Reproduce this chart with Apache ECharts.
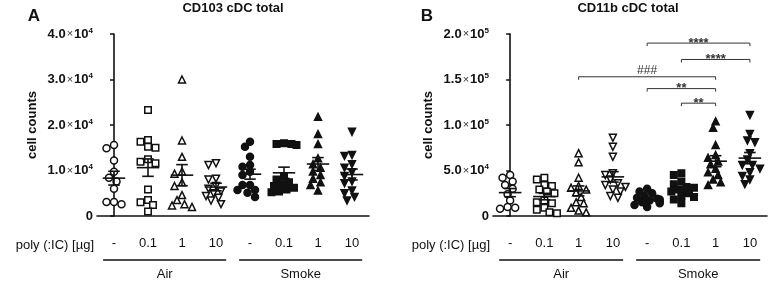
<!DOCTYPE html>
<html>
<head>
<meta charset="utf-8">
<script src="https://cdn.jsdelivr.net/npm/echarts@6/dist/echarts.min.js"></script>
<style>
  html, body { margin: 0; padding: 0; background: #fff; }
  #chart { width: 768px; height: 281px; }
</style>
</head>
<body>
<div id="chart"></div>
<script>
// cell counts, in units of 1000 cells
const doseLabels = ['-', '0.1', '1', '10', '-', '0.1', '1', '10'];
const exposureNames = ['Air', 'Smoke'];

const cd103Counts = [
  [15.6, 14.9, 12.2, 9.7, 8.4, 7.6, 6.0, 3.1, 2.6, 3.1],
  [23.3, 16.7, 16.3, 15.2, 15.0, 12.5, 11.9, 11.6, 5.8, 3.5, 3.0, 2.4, 1.0],
  [30.0, 16.6, 13.0, 9.8, 9.3, 7.4, 6.6, 4.6, 3.5, 2.6, 2.3, 2.0],
  [11.6, 11.2, 8.2, 8.0, 6.6, 6.0, 5.4, 5.0, 4.4, 4.0, 3.4, 2.6],
  [16.3, 15.2, 13.0, 11.2, 10.8, 9.7, 9.0, 6.8, 6.8, 5.7, 5.7, 5.1, 4.2],
  [16.0, 15.8, 15.8, 15.6, 8.6, 8.0, 7.4, 7.0, 6.6, 6.2, 5.8, 5.4, 5.2],
  [21.8, 18.0, 15.8, 12.7, 11.4, 10.6, 9.8, 9.0, 8.2, 7.4, 6.8, 5.6],
  [18.5, 13.4, 13.2, 11.4, 10.6, 9.6, 8.8, 7.6, 7.2, 5.6, 5.0, 4.2, 3.4]
];

const cd11bCounts = [
  [45, 42, 38, 34, 30, 24, 17, 10, 9, 8],
  [42, 40, 34, 33, 29, 27, 25, 17, 15, 14, 9, 7, 4, 3],
  [69, 59, 42, 33, 31, 29, 26, 21, 15, 14, 9, 6, 4],
  [86, 76, 65, 47, 45, 40, 36, 34, 32, 29, 27, 22, 20],
  [30, 27, 25, 22, 20, 19, 18, 17, 16, 15, 14, 12, 10],
  [47, 45, 38, 35, 32, 31, 29, 27, 25, 22, 21, 18, 14],
  [104, 97, 78, 67, 64, 60, 57, 52, 48, 45, 40, 37, 34],
  [111, 90, 83, 81, 69, 62, 56, 56, 52, 48, 44, 40, 35]
];

// significance brackets on panel B (group index from/to, height in 1000 cells)
const bracketFrom = [4, 5, 2, 4, 5];
const bracketTo = [7, 7, 6, 6, 6];
const bracketHeight = [190, 172, 153, 140, 124];
const bracketText = ['****', '****', '###', '**', '**'];

const yTicksA = [0, 10000, 20000, 30000, 40000];
const yTicksB = [0, 50000, 100000, 150000, 200000];

const FONT = '"Liberation Sans", Arial, sans-serif';
const INK = '#111';
const symbols = ['circle', 'rect', 'triangle', 'triangle', 'circle', 'rect', 'triangle', 'triangle'];
const symbolRot = [0, 0, 0, 180, 0, 0, 0, 180];
const symbolPx = { circle: 7, rect: 6.5, triangle: 7 };

const PLOT_H = 182, CAT_W = 34, DOT = 6.5;

// simple deterministic beeswarm: spread points that would collide
function swarm(vals, yMax) {
  const pxPer = PLOT_H / yMax;
  const order = vals.map((v, i) => i).sort((a, b) => vals[b] - vals[a]);
  const placed = [];
  const offs = new Array(vals.length).fill(0);
  order.forEach(i => {
    const py = vals[i] * pxPer;
    let best = 0;
    for (let k = 0; k < 11; k++) {
      const dx = k === 0 ? 0 : (k % 2 ? -1 : 1) * Math.ceil(k / 2) * 2.5;
      best = dx;
      if (placed.every(p => (p.x - dx) ** 2 + (p.y - py) ** 2 >= DOT * DOT)) break;
    }
    placed.push({ x: best, y: py });
    offs[i] = best / CAT_W;
  });
  return offs;
}

function stats(vals) {
  const n = vals.length;
  const m = vals.reduce((a, b) => a + b, 0) / n;
  const sd = Math.sqrt(vals.reduce((a, b) => a + (b - m) ** 2, 0) / (n - 1));
  return [m, sd / Math.sqrt(n)];
}

function sciLabel(v) {
  if (v === 0) return '{n|0}';
  const exp = Math.floor(Math.log10(v) + 1e-9);
  return '{n|' + (v / Math.pow(10, exp)).toFixed(1) + '}{x|×}{n|10}{e|' + exp + '}';
}

const yRich = {
  n: { fontFamily: FONT, fontWeight: 'bold', fontSize: 13, color: INK, lineHeight: 15 },
  x: { fontFamily: FONT, fontSize: 11, color: '#333', padding: [0, 1, 0, 1] },
  e: { fontFamily: FONT, fontWeight: 'bold', fontSize: 8, color: INK, verticalAlign: 'top', lineHeight: 10 }
};

function panelSeries(counts, yMax, axisIdx) {
  const out = [];
  counts.forEach((grp, g) => {
    const offs = swarm(grp.map(v => v * 1000), yMax);
    out.push({
      type: 'scatter',
      xAxisIndex: axisIdx * 2 + 1,
      yAxisIndex: axisIdx,
      symbol: symbols[g],
      symbolRotate: symbolRot[g],
      symbolSize: symbolPx[symbols[g]],
      itemStyle: { color: g >= 4 ? INK : '#fff', borderColor: INK, borderWidth: 1.5, opacity: 1 },
      emphasis: { disabled: true },
      data: grp.map((v, j) => [g + offs[j], v * 1000]),
      z: 3
    });
  });
  out.push({
    type: 'custom',
    xAxisIndex: axisIdx * 2 + 1,
    yAxisIndex: axisIdx,
    z: 6,
    data: counts.map((grp, g) => { const s = stats(grp); return [g, s[0] * 1000, s[1] * 1000]; }),
    renderItem: (params, api) => {
      const i = api.value(0), m = api.value(1), s = api.value(2);
      const c = api.coord([i, m]);
      const t = api.coord([i, m + s]);
      const b = api.coord([i, m - s]);
      const w = api.size([1, 0])[0];
      const half = w * 0.33, cap = w * 0.17;
      const st = { stroke: INK, lineWidth: 1.6 };
      return { type: 'group', children: [
        { type: 'line', shape: { x1: c[0] - half, y1: c[1], x2: c[0] + half, y2: c[1] }, style: st },
        { type: 'line', shape: { x1: c[0], y1: t[1], x2: c[0], y2: b[1] }, style: st },
        { type: 'line', shape: { x1: c[0] - cap, y1: t[1], x2: c[0] + cap, y2: t[1] }, style: st },
        { type: 'line', shape: { x1: c[0] - cap, y1: b[1], x2: c[0] + cap, y2: b[1] }, style: st }
      ]};
    }
  });
  return out;
}

const grids = [
  { left: 97, right: 399, top: 34, bottom: 65 },
  { left: 493, right: 1, top: 34, bottom: 65 }
];

function catAxis(gi) {
  return {
    type: 'category', gridIndex: gi, data: doseLabels, boundaryGap: true,
    axisLine: { lineStyle: { color: INK, width: 1.6 } },
    axisTick: { alignWithLabel: true, length: 4, lineStyle: { color: INK, width: 1.5 } },
    axisLabel: { interval: 0, margin: 21, fontFamily: FONT, fontSize: 13, color: INK },
    splitLine: { show: false }
  };
}
function valXAxis(gi) {
  return { type: 'value', gridIndex: gi, min: -0.5, max: 7.5, show: false };
}
function yAxis(gi, ticks) {
  return {
    type: 'value', gridIndex: gi, min: ticks[0], max: ticks[ticks.length - 1],
    interval: ticks[1] - ticks[0],
    name: 'cell counts', nameLocation: 'middle', nameGap: 58,
    nameTextStyle: { fontFamily: FONT, fontWeight: 'bold', fontSize: 13, color: INK },
    axisLine: { show: true, lineStyle: { color: INK, width: 1.6 } },
    axisTick: { show: true, length: 4, lineStyle: { color: INK, width: 1.5 } },
    axisLabel: { margin: 4, formatter: sciLabel, rich: yRich },
    splitLine: { show: false }
  };
}

const chart = echarts.init(document.getElementById('chart'), null, { renderer: 'canvas' });

const bracketSeries = {
  type: 'custom', xAxisIndex: 3, yAxisIndex: 1, z: 4,
  data: bracketFrom.map((f, i) => [f, bracketTo[i], bracketHeight[i] * 1000]),
  renderItem: (params, api) => {
    const a = api.coord([api.value(0), api.value(2)]);
    const b = api.coord([api.value(1), api.value(2)]);
    const label = bracketText[params.dataIndex];
    const isHash = label.charAt(0) === '#';
    return { type: 'group', children: [
      { type: 'polyline', shape: { points: [[a[0], a[1] + 3], [a[0], a[1]], [b[0], b[1]], [b[0], b[1] + 3]] },
        style: { stroke: '#333', lineWidth: 1, fill: null } },
      { type: 'text', style: { text: label, x: (a[0] + b[0]) / 2, y: a[1] - (isHash ? 6 : 0),
        align: 'center', verticalAlign: 'middle', font: (isHash ? '12px ' : 'bold 13px ') + FONT, fill: '#333' } }
    ]};
  }
};

chart.setOption({
  animation: false,
  grid: grids,
  xAxis: [catAxis(0), valXAxis(0), catAxis(1), valXAxis(1)],
  yAxis: [yAxis(0, yTicksA), yAxis(1, yTicksB)],
  series: panelSeries(cd103Counts, 40000, 0)
    .concat(panelSeries(cd11bCounts, 200000, 1))
    .concat([bracketSeries])
});

// annotations below the axes, placed through the axis scales
const gfx = [];
const titleTxt = (text, x, y, size) => ({ type: 'text', x: x, y: y,
  style: { text: text, font: 'bold ' + size + 'px ' + FONT, fill: INK, align: 'center', verticalAlign: 'middle' } });
gfx.push(titleTxt('A', 34, 16, 17), titleTxt('B', 427, 16, 17));
gfx.push(titleTxt('CD103 cDC total', 233, 8, 13), titleTxt('CD11b cDC total', 628, 8, 13));

[0, 1].forEach(p => {
  const xi = p * 2 + 1;
  const x0 = chart.convertToPixel({ xAxisIndex: xi }, -0.5);
  gfx.push({ type: 'text', x: x0 - 3, y: 245,
    style: { text: 'poly (:IC) [µg]', font: '13px ' + FONT, fill: INK, align: 'right', verticalAlign: 'middle' } });
  exposureNames.forEach((name, k) => {
    const xa = chart.convertToPixel({ xAxisIndex: xi }, k * 4 - 0.32);
    const xb = chart.convertToPixel({ xAxisIndex: xi }, k * 4 + 3.3);
    gfx.push({ type: 'line', shape: { x1: xa, y1: 260, x2: xb, y2: 260 }, style: { stroke: INK, lineWidth: 1.6 } });
    gfx.push({ type: 'text', x: (xa + xb) / 2, y: 274,
      style: { text: name, font: '13px ' + FONT, fill: INK, align: 'center', verticalAlign: 'middle' } });
  });
});
chart.setOption({ graphic: gfx });
</script>
</body>
</html>
